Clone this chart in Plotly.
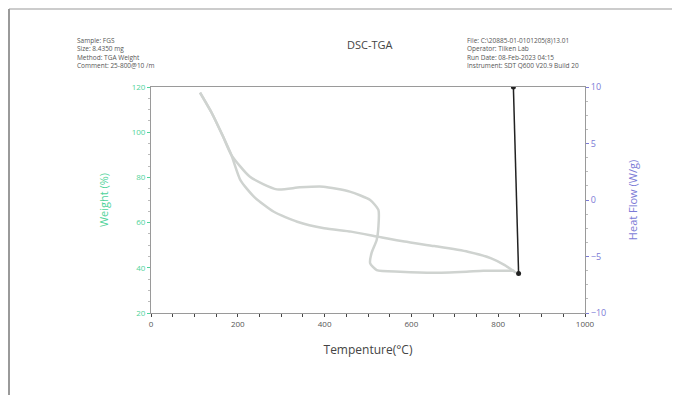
import plotly.graph_objects as go

# Weight (%) curve – heating branch then return branch
upper_t = [113, 140, 165, 185, 228, 290, 343, 397, 458, 505, 524, 524, 520, 508, 505, 520, 574, 650, 727, 766, 837]
upper_w = [117.5, 108.5, 98.5, 90.0, 80.3, 74.7, 75.6, 75.9, 73.7, 70.0, 65.6, 58.2, 52.3, 46.4, 42.0, 39.0, 38.3, 37.8, 38.3, 38.7, 38.7]
lower_t = [113, 140, 165, 185, 206, 237, 283, 337, 399, 461, 522, 584, 653, 730, 784, 815, 841]
lower_w = [117.5, 108.5, 98.5, 90.0, 78.8, 71.5, 64.8, 60.4, 57.5, 56.0, 53.8, 51.6, 49.6, 47.1, 44.2, 41.2, 37.8]
# Heat flow segment (W/g)
hf_t = [835, 847]
hf_v = [10, -6.5]

x_ticks = [0, 200, 400, 600, 800, 1000]
w_ticks = [20, 40, 60, 80, 100, 120]
hf_ticks = [-10, -5, 0, 5, 10]

GREEN = "#4fd39a"
PURPLE = "#7b7bd6"
AXIS = "#9a9a9a"

fig = go.Figure()
fig.add_trace(go.Scatter(x=upper_t, y=upper_w, mode="lines",
                         line=dict(color="#cfd3d0", width=2.5, shape="spline", smoothing=0.6),
                         showlegend=False))
fig.add_trace(go.Scatter(x=lower_t, y=lower_w, mode="lines",
                         line=dict(color="#cfd3d0", width=2.5, shape="spline", smoothing=0.6),
                         showlegend=False))
fig.add_trace(go.Scatter(x=hf_t, y=hf_v, mode="lines+markers", yaxis="y2",
                         line=dict(color="#222222", width=1.5),
                         marker=dict(color="#222222", size=5),
                         showlegend=False))

font = "Open Sans, Liberation Sans, sans-serif"
fig.update_layout(
    width=681, height=395,
    margin=dict(l=151, r=96, t=87, b=82),
    paper_bgcolor="white", plot_bgcolor="white",
    font=dict(family=font),
    xaxis=dict(range=[0, 1000], tickvals=x_ticks, ticks="outside", ticklen=3,
               tickcolor="#444", showgrid=False, zeroline=False,
               showline=True, linecolor=AXIS, mirror=True, linewidth=1,
               minor=dict(dtick=50, ticks="outside", ticklen=3, tickcolor="#444"),
               tickfont=dict(size=8, color="#555"),
               title=dict(text="Tempenture(°C)", font=dict(size=12, color="#444"), standoff=18)),
    yaxis=dict(range=[20, 120], tickvals=w_ticks, ticks="outside", ticklen=3,
               tickcolor=GREEN, showgrid=False, zeroline=False,
               showline=True, linecolor=AXIS, linewidth=1,
               minor=dict(dtick=5, ticks="outside", ticklen=2, tickcolor="#bbb"),
               tickfont=dict(size=8, color=GREEN),
               title=dict(text="Weight (%)", font=dict(size=11, color=GREEN), standoff=20)),
    yaxis2=dict(range=[-10, 10], tickvals=hf_ticks, overlaying="y", side="right",
                ticks="outside", ticklen=3, tickcolor=PURPLE, showgrid=False, zeroline=False,
                showline=True, linecolor=AXIS, linewidth=1,
                minor=dict(dtick=1.25, ticks="outside", ticklen=2, tickcolor="#bbb"),
                tickfont=dict(size=9, color=PURPLE),
                title=dict(text="Heat Flow (W/g)", font=dict(size=11, color=PURPLE), standoff=24)),
    shapes=[
        dict(type="line", xref="paper", yref="paper", x0=-142/434, x1=521/434,
             y0=1 + 78/226, y1=1 + 78/226, line=dict(color="#bbbbbb", width=1.5)),
        dict(type="line", xref="paper", yref="paper", x0=-142/434, x1=-142/434,
             y0=1 + 78/226, y1=-82/226, line=dict(color="#9a9a9a", width=2)),
    ],
    annotations=[
        dict(text="DSC-TGA", xref="paper", yref="paper", x=(370-151)/434, y=1 + (87-45)/226,
             showarrow=False, font=dict(size=11, color="#444"), xanchor="center", yanchor="middle"),
        dict(text="Sample: FGS<br>Size: 8.4350 mg<br>Method: TGA Weight<br>Comment: 25-800@10 /m",
             xref="paper", yref="paper", x=(75-151)/434, y=1 + (87-34)/226, showarrow=False,
             align="left", xanchor="left", yanchor="top", font=dict(size=6.5, color="#555")),
        dict(text="File: C:\\20885-01-0101205(8)13.01<br>Operator: Tiiken Lab<br>Run Date: 08-Feb-2023 04:15<br>Instrument: SDT Q600 V20.9 Build 20",
             xref="paper", yref="paper", x=(465-151)/434, y=1 + (87-34)/226, showarrow=False,
             align="left", xanchor="left", yanchor="top", font=dict(size=6.5, color="#555")),
    ],
)

fig.write_html("out.html")
